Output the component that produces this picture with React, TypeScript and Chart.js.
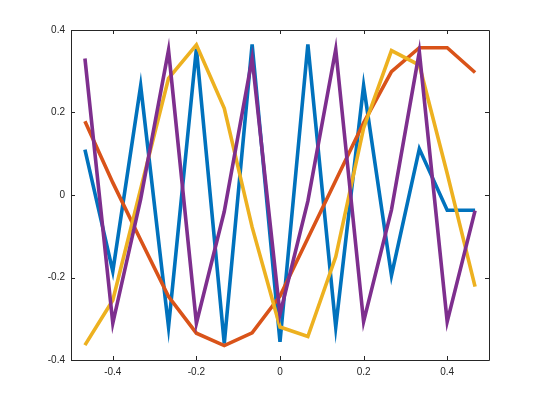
import React, { useEffect, useRef } from "react";
import { Chart, registerables } from "chart.js";

Chart.register(...registerables);

const xValues = [-7 / 15, -6 / 15, -5 / 15, -4 / 15, -3 / 15, -2 / 15, -1 / 15, 0, 1 / 15, 2 / 15, 3 / 15, 4 / 15, 5 / 15, 6 / 15, 7 / 15];
const blueValues = [0.11, -0.185, 0.265, -0.32, 0.355, -0.36, 0.365, -0.356, 0.365, -0.32, 0.265, -0.195, 0.112, -0.037, -0.037];
const orangeValues = [0.179, 0.03, -0.109, -0.246, -0.335, -0.365, -0.334, -0.245, -0.105, 0.035, 0.175, 0.299, 0.357, 0.357, 0.297];
const yellowValues = [-0.364, -0.255, 0.015, 0.283, 0.364, 0.21, -0.078, -0.32, -0.343, -0.15, 0.162, 0.35, 0.315, 0.052, -0.222];
const purpleValues = [0.331, -0.311, -0.01, 0.351, -0.311, -0.04, 0.331, -0.289, -0.015, 0.353, -0.307, -0.036, 0.347, -0.307, -0.038];
const xTicks = [-0.4, -0.2, 0, 0.2, 0.4];
const yTicks = [-0.4, -0.2, 0, 0.2, 0.4];

const seriesColors = ["#0072BD", "#D95319", "#EDB120", "#7E2F8E"];
const axisColor = "#262626";

const boxPlugin = {
  id: "boxPlugin",
  afterDatasetsDraw(chart: any) {
    const { ctx, chartArea, scales } = chart;
    const { left, right, top, bottom } = chartArea;
    ctx.save();
    ctx.strokeStyle = axisColor;
    ctx.lineWidth = 1;
    ctx.beginPath();
    ctx.rect(Math.round(left) + 0.5, Math.round(top) + 0.5, Math.round(right - left), Math.round(bottom - top));
    const tl = 4;
    xTicks.forEach((t) => {
      const x = Math.round(scales.x.getPixelForValue(t)) + 0.5;
      ctx.moveTo(x, bottom);
      ctx.lineTo(x, bottom - tl);
      ctx.moveTo(x, top);
      ctx.lineTo(x, top + tl);
    });
    yTicks.forEach((t) => {
      const y = Math.round(scales.y.getPixelForValue(t)) + 0.5;
      ctx.moveTo(left, y);
      ctx.lineTo(left + tl, y);
      ctx.moveTo(right, y);
      ctx.lineTo(right - tl, y);
    });
    ctx.stroke();
    ctx.restore();
  },
};

function fmt(v: number) {
  const r = Math.round(v * 10) / 10;
  if (Math.abs(r) < 1e-9) return "0";
  return String(r);
}

export default function App() {
  const ref = useRef<HTMLCanvasElement | null>(null);
  useEffect(() => {
    if (!ref.current) return;
    const mk = (vals: number[], i: number, order: number) => ({
      data: xValues.map((x, k) => ({ x, y: vals[k] })),
      borderColor: seriesColors[i],
      backgroundColor: seriesColors[i],
      borderWidth: 3.6,
      pointRadius: 0,
      tension: 0,
      fill: false,
      borderJoinStyle: "miter" as const,
      order,
    });
    const chart = new Chart(ref.current, {
      type: "line",
      data: {
        datasets: [mk(blueValues, 0, 4), mk(orangeValues, 1, 3), mk(yellowValues, 2, 2), mk(purpleValues, 3, 1)],
      },
      options: {
        animation: false,
        responsive: false,
        maintainAspectRatio: false,
        layout: { padding: { left: 0, right: 51, top: 30, bottom: 0 } },
        plugins: { legend: { display: false }, tooltip: { enabled: false } },
        scales: {
          x: {
            type: "linear",
            min: -0.5,
            max: 0.5,
            grid: { display: false, drawTicks: false },
            border: { display: false },
            afterBuildTicks: (s: any) => {
              s.ticks = xTicks.map((v) => ({ value: v }));
            },
            afterFit: (s: any) => {
              s.height = 45;
            },
            ticks: {
              padding: 6,
              color: axisColor,
              font: { family: "'Liberation Sans', Arial, sans-serif", size: 10 },
              callback: (v: any) => fmt(Number(v)),
              maxRotation: 0,
            },
          },
          y: {
            type: "linear",
            min: -0.4,
            max: 0.4,
            grid: { display: false, drawTicks: false },
            border: { display: false },
            afterBuildTicks: (s: any) => {
              s.ticks = yTicks.map((v) => ({ value: v }));
            },
            afterFit: (s: any) => {
              s.width = 71;
            },
            ticks: {
              padding: 6,
              color: axisColor,
              font: { family: "'Liberation Sans', Arial, sans-serif", size: 10 },
              callback: (v: any) => fmt(Number(v)),
            },
          },
        },
      },
      plugins: [boxPlugin],
    });
    return () => chart.destroy();
  }, []);
  return (
    <div style={{ position: "fixed", left: 0, top: 0, width: 540, height: 405, background: "#fff" }}>
      <canvas ref={ref} width={540} height={405} style={{ width: 540, height: 405 }} />
    </div>
  );
}
